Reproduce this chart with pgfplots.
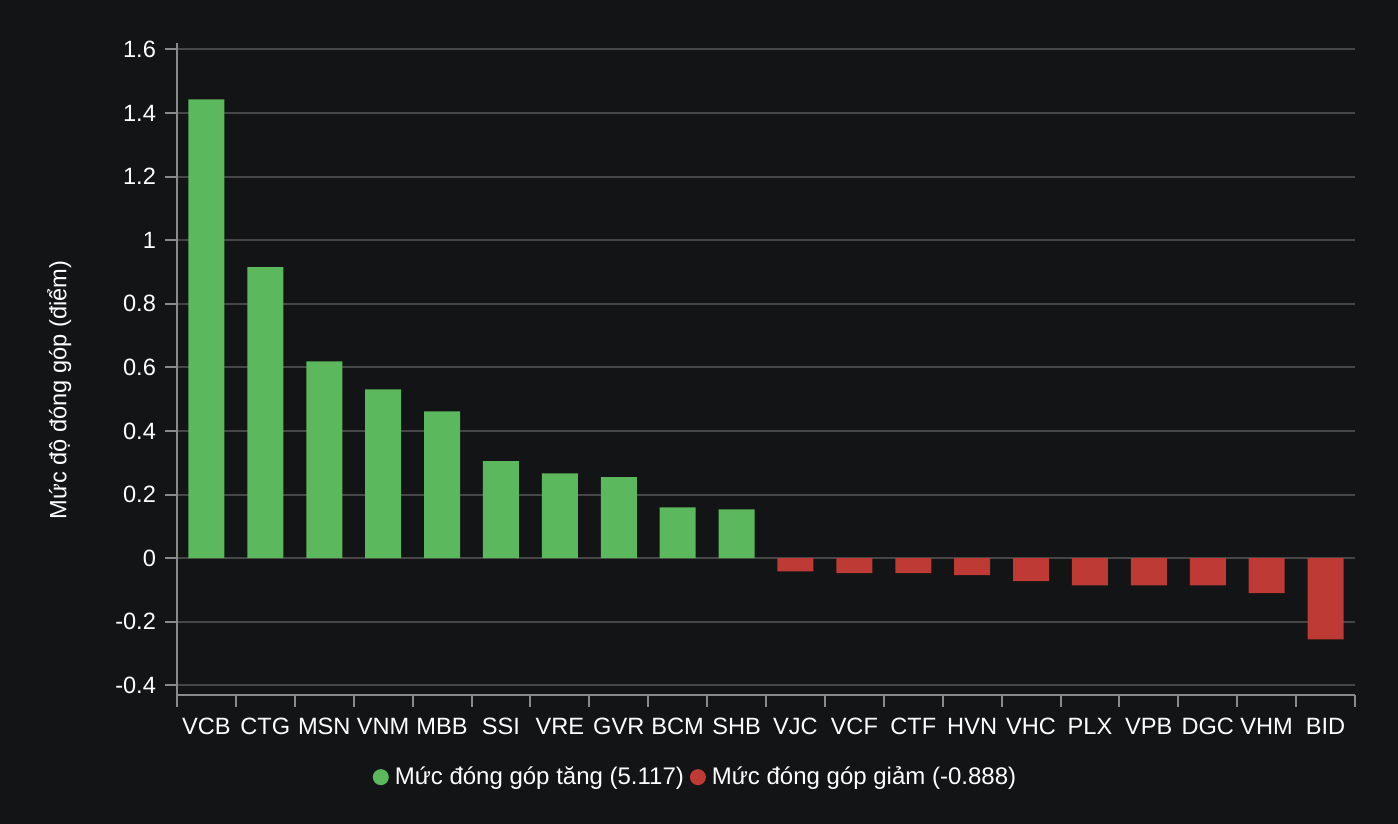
\documentclass[border=0pt]{standalone}
\usepackage{pgfplots}
\pgfplotsset{compat=1.18}
\usepackage{fontspec}
\setmainfont{Liberation Sans}
\definecolor{bgcol}{HTML}{131416}
\definecolor{upcol}{HTML}{5CB85C}
\definecolor{downcol}{HTML}{BD3A35}
\definecolor{gridcol}{HTML}{464646}
\definecolor{axcol}{HTML}{8A8A8A}
\begin{document}
\begin{tikzpicture}
\fill[bgcol] (0,0) rectangle (699pt,412pt);
\begin{axis}[
    at={(88.5pt,64.5pt)}, anchor=south west,
    scale only axis,
    width=589pt, height=326pt,
    xmin=-0.5, xmax=19.5,
    ymin=-0.43, ymax=1.62,
    axis x line*=bottom, axis y line*=left,
    axis line style={axcol, line width=1pt},
    xtick={0,...,19},
    xticklabels={VCB,CTG,MSN,VNM,MBB,SSI,VRE,GVR,BCM,SHB,VJC,VCF,CTF,HVN,VHC,PLX,VPB,DGC,VHM,BID},
    minor xtick={-0.5,0.5,...,19.5},
    major x tick style={draw=none},
    minor tick length=6pt,
    ytick={-0.4,-0.2,0,0.2,0.4,0.6,0.8,1,1.2,1.4,1.6},
    major tick length=6pt,
    tick align=outside,
    tick style={axcol, line width=1pt},
    ymajorgrids=true,
    grid style={gridcol, line width=1pt},
    ticklabel style={font=\fontsize{11.8}{13}\selectfont, text=white},
    xticklabel style={text height=9pt, text depth=0pt, anchor=north, yshift=-1pt},
    yticklabel style={xshift=-1pt},
    /pgf/number format/assume math mode=true,
    yticklabel style={/pgf/number format/fixed, /pgf/number format/precision=1},
    ylabel={Mức độ đóng góp (điểm)},
    ylabel style={at={(axis description cs:-0.1,0.468)}, anchor=center,
        text=white, font=\fontsize{11.8}{13}\selectfont},
    ybar, bar width=18pt,
    legend style={at={(0.441,-0.126)}, anchor=center, draw=none, fill=none,
        text=white, font=\fontsize{12}{13}\selectfont,
        legend columns=2, column sep=1pt},
    legend image code/.code={\fill (2pt,0pt) circle (4pt);},
]
\addplot[fill=upcol, draw=none, bar shift=0pt] coordinates {
    (0,1.443) (1,0.915) (2,0.619) (3,0.531) (4,0.462)
    (5,0.305) (6,0.267) (7,0.255) (8,0.160) (9,0.154)
};
\addlegendentry{Mức đóng góp tăng (5.117)}
\addplot[fill=downcol, draw=none, bar shift=0pt] coordinates {
    (10,-0.041) (11,-0.047) (12,-0.047) (13,-0.053) (14,-0.072)
    (15,-0.085) (16,-0.085) (17,-0.085) (18,-0.110) (19,-0.255)
};
\addlegendentry{Mức đóng góp giảm (-0.888)}
\end{axis}
\pgfresetboundingbox
\path (0,0) rectangle (699pt,412pt);
\end{tikzpicture}
\end{document}
